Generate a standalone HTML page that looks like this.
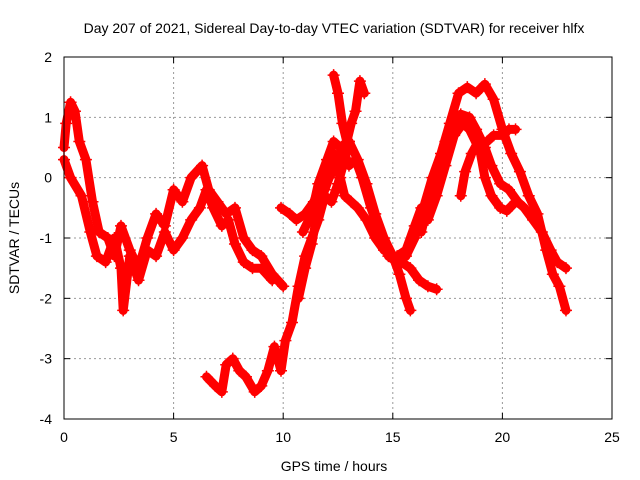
<!DOCTYPE html>
<html><head><meta charset="utf-8"><style>
body{margin:0;background:#fff;}
svg{display:block;font-family:"Liberation Sans",sans-serif;}
</style></head><body>
<svg id="chart" width="640" height="480" xmlns="http://www.w3.org/2000/svg">
<text x="334" y="33" font-size="14" text-anchor="middle">Day 207 of 2021, Sidereal Day-to-day VTEC variation (SDTVAR) for receiver hlfx</text>
<g id="grid"></g>
<g id="axes"></g>
<g id="series"></g>
<rect x="64" y="57" width="548" height="362" fill="none" stroke="#000" stroke-width="1"/>
<text x="334" y="471" font-size="14" text-anchor="middle">GPS time / hours</text>
<text x="19" y="238" font-size="14" text-anchor="middle" transform="rotate(-90 19 238)">SDTVAR / TECUs</text>
</svg>
<script>
const xTicks=[0,5,10,15,20,25];
const yTicks=[2,1,0,-1,-2,-3,-4];
const trackA_t=[0,0.1,0.3,0.5,0.7,1.0,1.3,1.6,2.0,2.3,2.6,3.0,3.4,3.8,4.2,4.6,5.0,5.4,5.8,6.3,6.6,7.0,7.4,7.8,8.2,8.6,9.0,9.5,10.0];
const trackA_v=[0.5,0.9,1.25,1.1,0.6,0.3,-0.4,-0.9,-1.0,-1.3,-0.8,-1.2,-1.5,-1.0,-0.6,-0.8,-0.2,-0.4,0.0,0.2,-0.2,-0.4,-0.6,-0.5,-1.0,-1.2,-1.3,-1.6,-1.8];
const trackB_t=[0,0.3,0.8,1.2,1.5,1.9,2.3,2.6,2.7,3.0,3.4,3.8,4.2,4.6,5.0,5.4,5.8,6.2,6.5,6.8,7.2,7.5,7.8,8.2,8.6,9.0,9.5];
const trackB_v=[0.3,0.0,-0.3,-0.9,-1.3,-1.4,-1.0,-1.5,-2.2,-1.3,-1.7,-1.2,-1.3,-0.9,-1.2,-1.0,-0.7,-0.5,-0.2,-0.5,-0.8,-0.7,-1.1,-1.4,-1.5,-1.5,-1.7];
const trackC_t=[6.5,6.9,7.2,7.4,7.7,8.0,8.3,8.7,9.0,9.3,9.6,9.9,10.1,10.4,10.7,11.0,11.3,11.6,11.9,12.2,12.5,12.8,13.0];
const trackC_v=[-3.3,-3.45,-3.55,-3.1,-3.0,-3.2,-3.3,-3.55,-3.45,-3.2,-2.8,-3.2,-2.7,-2.4,-1.8,-1.3,-1.0,-0.7,-0.3,-0.4,-0.1,0.3,0.6];
const trackD_t=[9.9,10.3,10.6,11.0,11.4,11.8,12.1,12.3,12.6,12.8,13.1,13.4,13.8,14.2,14.6,15.0,15.4,15.8,16.2,16.6,17.0];
const trackD_v=[-0.5,-0.6,-0.7,-0.6,-0.4,0.0,0.3,0.4,0.0,-0.3,-0.4,-0.5,-0.7,-1.0,-1.2,-1.3,-1.4,-1.5,-1.7,-1.8,-1.85];
const trackE_t=[12.3,12.5,12.7,12.9,13.1,13.3,13.5,13.7];
const trackE_v=[1.7,1.4,0.9,0.6,0.9,1.1,1.6,1.4];
const trackF_t=[10.7,11.0,11.3,11.6,11.9,12.1,12.4,12.7,13.0,13.3,13.6,14.0,14.4,14.8,15.2,15.6,16.0,16.4,16.8,17.2,17.6,18.0,18.4,18.8,19.2,19.6,20.0,20.4,20.8,21.2,21.6,22.0,22.3,22.6,22.9];
const trackF_v=[-2.0,-1.5,-1.1,-0.5,-0.2,0.0,0.2,0.5,0.2,0.3,0.0,-0.5,-0.9,-1.3,-1.4,-1.3,-1.0,-0.5,0.0,0.4,0.9,1.4,1.5,1.4,1.55,1.3,0.8,0.4,0.1,-0.3,-0.6,-1.2,-1.6,-1.8,-2.2];
const trackG_t=[10.9,11.3,11.6,12.0,12.3,12.6,13.0,13.4,13.8,14.2,14.6,15.0,15.3,15.6,15.8];
const trackG_v=[-0.9,-0.6,-0.1,0.3,0.6,0.5,0.6,0.3,-0.1,-0.6,-1.0,-1.3,-1.6,-2.0,-2.2];
const trackH_t=[15.2,15.6,16.0,16.3,16.6,17.0,17.4,17.8,18.2,18.5,18.9,19.3,19.6,20.0,20.3,20.6];
const trackH_v=[-1.3,-1.2,-0.8,-0.5,-0.7,-0.3,0.2,0.7,0.9,0.8,0.5,0.6,0.7,0.7,0.8,0.8];
const trackI_t=[16.3,16.7,17.1,17.4,17.8,18.1,18.5,18.8,19.2,19.5,19.9,20.3,20.7,21.0,21.4,21.8,22.2,22.5,22.9];
const trackI_v=[-0.9,-0.3,0.2,0.6,0.9,1.05,1.0,0.8,0.5,0.2,-0.1,-0.2,-0.4,-0.5,-0.7,-0.9,-1.2,-1.4,-1.5];
const trackJ_t=[18.1,18.3,18.6,18.9,19.2,19.5,19.9,20.2,20.6];
const trackJ_v=[-0.3,0.1,0.4,0.6,0.0,-0.3,-0.5,-0.55,-0.4];
const tracks=[[trackA_t,trackA_v],[trackB_t,trackB_v],[trackC_t,trackC_v],[trackD_t,trackD_v],[trackE_t,trackE_v],[trackF_t,trackF_v],[trackG_t,trackG_v],[trackH_t,trackH_v],[trackI_t,trackI_v],[trackJ_t,trackJ_v]];

const NS="http://www.w3.org/2000/svg";
const X0=64,X1=612,Y0=419,Y1=57;
function xs(t){return X0+(t-0)/(25-0)*(X1-X0);}
function ys(v){return Y0-(v-(-4))/(2-(-4))*(Y0-Y1);}
function mk(tag,attrs,parent){const e=document.createElementNS(NS,tag);for(const k in attrs)e.setAttribute(k,attrs[k]);parent.appendChild(e);return e;}
const grid=document.getElementById('grid'),axes=document.getElementById('axes'),series=document.getElementById('series');
xTicks.forEach(t=>{
  const x=xs(t);
  if(t>0&&t<25){const g=mk('line',{x1:x,x2:x,y1:Y1,y2:Y0,stroke:'#999','stroke-dasharray':'2,3'},grid);
  
  }
  const l=mk('text',{x:x,y:442,'font-size':14,'text-anchor':'middle'},axes);l.textContent=t;
  
  
  mk('line',{x1:x,x2:x,y1:Y0,y2:Y0-6,stroke:'#000'},axes);
  mk('line',{x1:x,x2:x,y1:Y1,y2:Y1+6,stroke:'#000'},axes);
});
yTicks.forEach(v=>{
  const y=ys(v);
  if(v>-4&&v<2){const g=mk('line',{x1:X0,x2:X1,y1:y,y2:y,stroke:'#999','stroke-dasharray':'2,3'},grid);
  
  }
  const l=mk('text',{x:52,y:y+5,'font-size':14,'text-anchor':'end'},axes);l.textContent=v;
  
  
  mk('line',{x1:X0,x2:X0+6,y1:y,y2:y,stroke:'#000'},axes);
  mk('line',{x1:X1,x2:X1-6,y1:y,y2:y,stroke:'#000'},axes);
});
tracks.forEach((tr,i)=>{
  const [ts,vs]=tr;
  const pts=ts.map((t,j)=>xs(t).toFixed(1)+','+ys(vs[j]).toFixed(1)).join(' ');
  const pl=mk('polyline',{points:pts,fill:'none',stroke:'#f00','stroke-width':9,'stroke-linejoin':'round','stroke-linecap':'round'},series);
  
  
  ts.forEach((t,j)=>{
    const x=xs(t),y=ys(vs[j]);
    const p=mk('path',{d:`M${x-6},${y}H${x+6}M${x},${y-6}V${y+6}`,stroke:'#f00','stroke-width':1.5},series);
    
    
  });
});
</script>
</body></html>
